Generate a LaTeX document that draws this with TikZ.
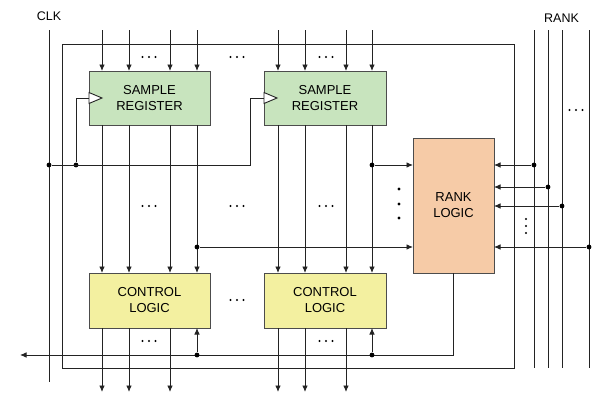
\documentclass[tikz,border=0pt]{standalone}
\usepackage{fontspec}
\setmainfont{Liberation Sans}
\usetikzlibrary{arrows.meta}
\usetikzlibrary{positioning}
\definecolor{regGreen}{RGB}{200,228,190}
\definecolor{rankPeach}{RGB}{246,203,167}
\definecolor{ctrlYellow}{RGB}{243,240,160}
\definecolor{wireGray}{RGB}{35,35,35}

\tikzset{
  block/.style={draw=black!70, line width=1pt, inner sep=0pt, outer sep=0pt,
    align=center, font=\fontsize{13}{16}\selectfont},
  wire/.style={draw=wireGray, line width=0.9pt},
  bus/.style={wire, -{Latex[length=6.5pt,width=5.5pt]}},
  junc/.style={circle, fill=black, inner sep=0pt, minimum size=4.8pt},
  lbl/.style={font=\fontsize{12.5}{15}\selectfont},
  hdots/.pic={\foreach \d in {-6.5,0,6.5} \fill (\d,0) circle (1.1pt);},
}

\begin{document}
\begin{tikzpicture}[x=1pt,y=-1pt]
            \useasboundingbox (0,0) rectangle (592,394);
            
            % Blocks
            \node[block, fill=regGreen, minimum width=121pt, minimum height=54pt] (sr1) at (149.5,98) {SAMPLE\\REGISTER};
            \node[block, fill=regGreen, minimum width=122pt, minimum height=54pt] (sr2) at (325,98) {SAMPLE\\REGISTER};
            \node[block, fill=ctrlYellow, minimum width=121pt, minimum height=55pt] (cl1) at (149.5,300.5) {CONTROL\\LOGIC};
            \node[block, fill=ctrlYellow, minimum width=122pt, minimum height=55pt] (cl2) at (325,300.5) {CONTROL\\LOGIC};
            \node[block, fill=rankPeach, minimum width=81pt, minimum height=135pt] (rank) at (453.5,205.5) {RANK\\LOGIC};
            
            % Outer loop
            \draw[wire] (62,44) rectangle (514,368);
            
            % CLK and RANK lines
            \node[lbl] (clkLbl) at (49,16.5) {CLK};
            \node[lbl] (rankLbl) at (561.5,18) {RANK};
            \coordinate (clkTop) at (49,30);
            \coordinate (clkBot) at (49,382);
            \draw[wire] (clkTop) -- (clkBot);
            \foreach \x [count=\i] in {534,548,562,589} {
              \coordinate (rkTop\i) at (\x,30);
              \coordinate (rkBot\i) at (\x,368);
              \draw[wire] (rkTop\i) -- (rkBot\i);
            }
            
            % Clock distribution
            \node[junc] (ck1) at (49,165) {};
            \node[junc] (ck2) at (76,165) {};
            \coordinate (ck3) at (250,165);
            \draw[wire] (ck1) -- (ck3) |- (sr2.west);
            \draw[wire] (ck2) |- (sr1.west);
            \foreach \b in {sr1,sr2}
              \draw[wire, fill=white, line join=miter] ([yshift=5.5pt]\b.west) -- ([xshift=13pt]\b.west) -- ([yshift=-5.5pt]\b.west) -- cycle;
            
            % Data buses
            \foreach \x [count=\i] in {102,129,170,197} {
              \coordinate (inA\i) at (\x,30);
              \draw[bus] (inA\i) -- (inA\i |- sr1.north);
              \draw[bus] (inA\i |- sr1.south) -- (inA\i |- cl1.north);
            }
            \foreach \x [count=\i] in {278,305,346,372} {
              \coordinate (inB\i) at (\x,30);
              \draw[bus] (inB\i) -- (inB\i |- sr2.north);
              \draw[bus] (inB\i |- sr2.south) -- (inB\i |- cl2.north);
            }
            \foreach \x [count=\i] in {102,129,170} {
              \coordinate (outA\i) at (\x,392);
              \draw[bus] (outA\i |- cl1.south) -- (outA\i);
            }
            \foreach \x [count=\i] in {278,305,346} {
              \coordinate (outB\i) at (\x,392);
              \draw[bus] (outB\i |- cl2.south) -- (outB\i);
            }
            
            % Rank logic inputs
            \node[junc] (tapB) at (372,165) {};
            \node[junc] (tapA) at (197,247) {};
            \draw[bus] (tapB) -- (tapB -| rank.west);
            \draw[bus] (tapA) -- (tapA -| rank.west);
            \node[junc] (rk1) at (534,165) {};
            \node[junc] (rk2) at (548,187) {};
            \node[junc] (rk3) at (562,206) {};
            \node[junc] (rk4) at (589,247) {};
            \foreach \j in {rk1,rk2,rk3,rk4}
              \draw[bus] (\j) -- (\j -| rank.east);
            
            % Rank logic output back to control logic
            \coordinate (rankOut) at (20,355);
            \draw[bus] (rank.south) |- (rankOut);
            \node[junc] (fbA) at (197,355) {};
            \node[junc] (fbB) at (372,355) {};
            \draw[bus] (fbA) -- (fbA |- cl1.south);
            \draw[bus] (fbB) -- (fbB |- cl2.south);
            
            % Dots
            \foreach \p in {(149,57),(237,57),(326,57),(149,206),(237,206),(326,206),(237,300),(149,341),(326,341),(576,110)}
              \pic at \p {hdots};
            \foreach \y in {189,204,218} \fill (399,\y) circle (1.7pt);
            \foreach \y in {219,226,233} \fill (526,\y) circle (1.1pt);
            
            \end{tikzpicture}
\end{document}
